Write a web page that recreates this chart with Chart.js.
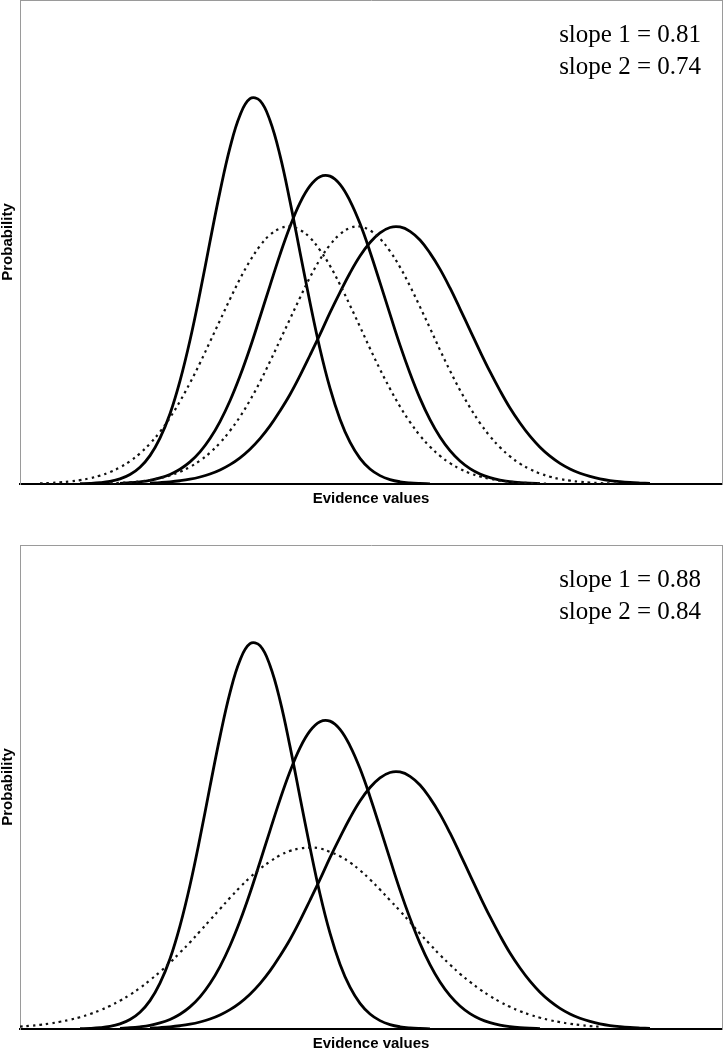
<!DOCTYPE html>
<html><head><meta charset="utf-8">
<script src="https://cdn.jsdelivr.net/npm/chart.js@4.4.1/dist/chart.umd.min.js"></script>
<style>
html,body{margin:0;padding:0;background:#fff;overflow:hidden;width:724px;height:1049px;}
.panel{position:absolute;left:0;width:724px;height:520px;}
#p1{top:0px}
#p2{top:545px}
</style></head><body>
<div class="panel" id="p1"><canvas id="c1" width="724" height="520"></canvas></div>
<div class="panel" id="p2"><canvas id="c2" width="724" height="520"></canvas></div>
<script>
// Evidence axis sample positions (arbitrary units, no tick labels in the figure)
const xs = [0,10,20,30,40,50,60,70,80,90,100,110,120,130,140,150,160,170,180,190,200,210,220,230,240,250,260,270,280,290,300,310,320,330,340,350,360,370,380,390,400,410,420,430,440,450,460,470,480,490,500,510,520,530,540,550,560,570,580,590,600,610,620,630,640,650,660,670,680,690,700];

// Solid curves (same in both panels)
const curveA = [null,null,null,null,null,null,0.05,0.12,0.26,0.53,1.05,1.95,3.46,5.86,9.46,14.5,21.3,29.7,39.5,50.1,60.4,69.5,76.2,79.6,79.2,75.1,67.9,58.4,47.9,37.5,27.9,19.8,13.4,8.63,5.30,3.10,1.73,0.92,0.46,0.22,0.10,0.04,null,null,null,null,null,null,null,null,null,null,null,null,null,null,null,null,null,null,null,null,null,null,null,null,null,null,null,null,null];
const curveB = [null,null,null,null,null,null,null,null,null,null,0.15,0.26,0.46,0.76,1.25,1.98,3.05,4.57,6.64,9.39,12.9,17.2,22.3,28.1,34.5,41.0,47.4,53.2,58.1,61.6,63.5,63.6,61.9,58.5,53.8,48.0,41.6,35.1,28.7,22.9,17.7,13.3,9.70,6.88,4.75,3.18,2.07,1.31,0.80,0.48,0.28,0.16,0.09,null,null,null,null,null,null,null,null,null,null,null,null,null,null,null,null,null,null];
const curveC = [null,null,null,null,null,null,null,null,null,null,null,null,null,0.18,0.29,0.44,0.67,0.99,1.45,2.07,2.91,4.01,5.42,7.20,9.38,12.0,15.1,18.5,22.4,26.6,30.9,35.4,39.6,43.6,47.1,49.9,51.9,53.0,53.1,52.2,50.4,47.7,44.4,40.5,36.2,31.8,27.4,23.2,19.3,15.7,12.6,9.87,7.60,5.75,4.27,3.11,2.22,1.56,1.07,0.72,0.48,0.31,0.20,0.12,null,null,null,null,null,null,null];

// Dotted curves, panel 1
const dot1A = [null,null,0.14,0.22,0.35,0.53,0.80,1.19,1.73,2.46,3.44,4.71,6.34,8.36,10.8,13.7,17.1,20.9,25.0,29.4,33.8,38.2,42.4,46.1,49.2,51.5,52.8,53.2,52.5,50.9,48.3,45.1,41.2,36.9,32.5,28.0,23.7,19.7,16.0,12.8,10.0,7.71,5.81,4.30,3.12,2.22,1.55,1.06,0.71,0.47,0.30,0.19,0.12,0.07,null,null,null,null,null,null,null,null,null,null,null,null,null,null,null,null,null];
const dot1B = [null,null,null,null,null,null,null,null,null,0.14,0.23,0.36,0.55,0.83,1.22,1.77,2.52,3.52,4.82,6.47,8.52,11.0,13.9,17.3,21.1,25.3,29.7,34.1,38.5,42.7,46.4,49.4,51.6,52.9,53.2,52.4,50.7,48.1,44.8,40.9,36.6,32.2,27.7,23.4,19.4,15.8,12.6,9.86,7.57,5.70,4.21,3.05,2.17,1.51,1.03,0.69,0.45,0.29,0.19,0.11,0.07,null,null,null,null,null,null,null,null,null,null];

// Dotted curve, panel 2
const dot2 = [0.48,0.65,0.87,1.14,1.49,1.92,2.44,3.09,3.86,4.77,5.84,7.07,8.48,10.1,11.8,13.7,15.8,17.9,20.2,22.5,24.8,27.1,29.3,31.3,33.1,34.6,35.9,36.8,37.3,37.5,37.3,36.6,35.7,34.4,32.8,30.9,28.8,26.6,24.4,22.1,19.7,17.5,15.3,13.3,11.4,9.73,8.18,6.81,5.61,4.58,3.69,2.95,2.33,1.82,1.41,1.08,0.82,0.61,0.46,null,null,null,null,null,null,null,null,null,null,null,null];

const slopes1 = ['slope 1 = 0.81', 'slope 2 = 0.74'];
const slopes2 = ['slope 1 = 0.88', 'slope 2 = 0.84'];

function pts(arr){ const out=[]; for(let i=0;i<xs.length;i++){ out.push({x:xs[i], y:arr[i]}); } return out; }
function solid(arr){ return {data:pts(arr), borderColor:'#000', borderWidth:2.8, fill:false, pointRadius:0, tension:0.4, spanGaps:false}; }
function dotted(arr){ return {data:pts(arr), borderColor:'#111', borderWidth:2.2, borderDash:[2.5,4], fill:false, pointRadius:0, tension:0.4, spanGaps:false}; }

const sansTitle = {family:'"Liberation Sans", Arial, sans-serif', size:15, weight:'bold', lineHeight:1};

function slopePlugin(lines){
  return { id:'slopeLabels', afterDraw(chart){
    const ctx=chart.ctx, a=chart.chartArea;
    ctx.save();
    ctx.font='25px "Liberation Serif", "Times New Roman", serif';
    ctx.fillStyle='#000'; ctx.textAlign='right'; ctx.textBaseline='alphabetic';
    lines.forEach((t,i)=>ctx.fillText(t, 701, a.top+42+i*31.5));
    ctx.restore();
  }};
}

function options(){
  return {
    responsive:false, animation:false, events:[],
    layout:{padding:{left:0,right:2,top:0,bottom:13.5}},
    plugins:{legend:{display:false}, tooltip:{enabled:false}},
    scales:{
      x:{type:'linear',position:'bottom',min:0,max:702,
         ticks:{display:false}, grid:{display:false,drawTicks:false},
         border:{display:true,color:'#000',width:2},
         title:{display:true,text:'Evidence values',color:'#000',font:sansTitle,padding:{top:7.5,bottom:0}}},
      x2:{type:'linear',position:'top',min:0,max:702,
         ticks:{display:false}, grid:{display:false,drawTicks:false},
         border:{display:true,color:'#9a9a9a',width:1}},
      y:{type:'linear',position:'left',min:0,max:100,
         ticks:{display:false}, grid:{display:false,drawTicks:false},
         border:{display:true,color:'#9a9a9a',width:1},
         title:{display:true,text:'Probability',color:'#000',font:sansTitle,padding:{top:0,bottom:5}}},
      y2:{type:'linear',position:'right',min:0,max:100,
         ticks:{display:false}, grid:{display:false,drawTicks:false},
         border:{display:true,color:'#9a9a9a',width:1}}
    }
  };
}

new Chart(document.getElementById('c1'), {
  type:'line',
  data:{datasets:[dotted(dot1A), dotted(dot1B), solid(curveA), solid(curveB), solid(curveC)]},
  options:options(),
  plugins:[slopePlugin(slopes1)]
});
new Chart(document.getElementById('c2'), {
  type:'line',
  data:{datasets:[dotted(dot2), solid(curveA), solid(curveB), solid(curveC)]},
  options:options(),
  plugins:[slopePlugin(slopes2)]
});
</script>
</body></html>
